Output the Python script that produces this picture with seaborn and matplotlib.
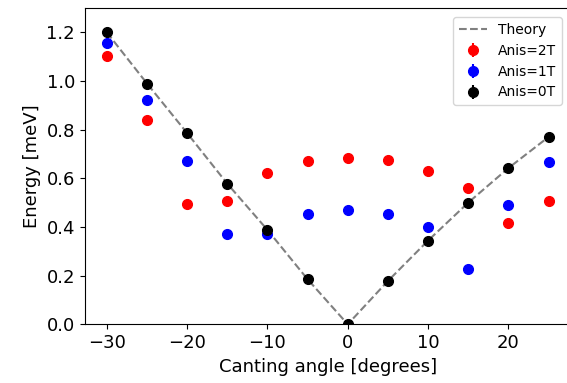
import matplotlib
matplotlib.use("Agg")
import matplotlib.pyplot as plt
import seaborn as sns

# Canting angles (degrees)
angles = [-30, -25, -20, -15, -10, -5, 0, 5, 10, 15, 20, 25]

# Theoretical excitation energy (meV)
theory = [1.20, 0.99, 0.786, 0.578, 0.388, 0.185, 0.0, 0.178, 0.344, 0.50, 0.642, 0.770]

# Measured energies (meV) for each anisotropy field
anis_2t = [1.103, 0.841, 0.493, 0.506, 0.621, 0.672, 0.685, 0.674, 0.631, 0.560, 0.415, 0.506]
anis_1t = [1.155, 0.923, 0.672, 0.370, 0.372, 0.452, 0.470, 0.453, 0.399, 0.226, 0.489, 0.666]
anis_0t = [1.203, 0.989, 0.786, 0.578, 0.388, 0.185, 0.000, 0.178, 0.344, 0.500, 0.642, 0.770]

# Fit uncertainties (meV)
err_2t = [0.01, 0.01, 0.01, 0.01, 0.01, 0.01, 0.01, 0.01, 0.01, 0.01, 0.01, 0.01]
err_1t = [0.01, 0.01, 0.01, 0.01, 0.01, 0.01, 0.01, 0.01, 0.01, 0.01, 0.01, 0.01]
err_0t = [0.01, 0.01, 0.01, 0.01, 0.01, 0.01, 0.01, 0.01, 0.01, 0.01, 0.01, 0.01]

plt.rcParams["font.family"] = ["DejaVu Sans"]

fig = plt.figure(figsize=(5.67, 3.83), dpi=100)
ax = fig.add_axes([0.1494, 0.1533, 0.857, 0.8257])

sns.lineplot(x=angles, y=theory, ax=ax, color="gray", linestyle="--",
             linewidth=1.5, label="Theory")

series = [
    (anis_2t, err_2t, "r", "Anis=2T"),
    (anis_1t, err_1t, "b", "Anis=1T"),
    (anis_0t, err_0t, "k", "Anis=0T"),
]
for vals, errs, col, lab in series:
    ax.errorbar(angles, vals, yerr=errs, fmt="o", color=col, markersize=7,
                label=lab)

ax.set_ylim(0, 1.3)
ax.set_xlim(-32.75, 27.75)
ax.set_yticks([0.0, 0.2, 0.4, 0.6, 0.8, 1.0, 1.2])
ax.set_xticks([-30, -20, -10, 0, 10, 20])
ax.tick_params(labelsize=13)
ax.set_xlabel("Canting angle [degrees]", fontsize=13)
ax.set_ylabel("Energy [meV]", fontsize=13)
ax.legend(loc="upper right", fontsize=10, borderaxespad=0.65)

fig.savefig("out.png", dpi=100)
